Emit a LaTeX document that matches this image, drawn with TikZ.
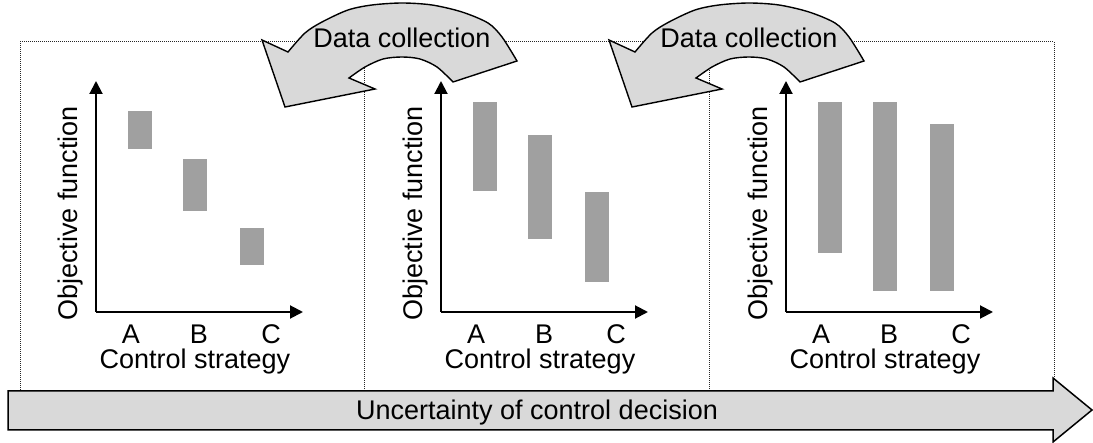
\documentclass[tikz,border=0pt]{standalone}
\usepackage{fontspec}
\setmainfont{Liberation Sans}
\usetikzlibrary{arrows.meta}
\definecolor{barc}{HTML}{A0A0A0}
\definecolor{arrc}{HTML}{D9D9D9}
\begin{document}
\begin{tikzpicture}[x=1pt,y=-1pt,
  lbl/.style={font=\fontsize{27}{30}\selectfont, inner sep=0pt, anchor=base},
  bar/.style={fill=barc, draw=none},
  axis/.style={line width=2pt, -{Triangle[length=13pt,width=13pt]}},
  frame/.style={line width=1pt, dash pattern=on 1pt off 1pt, draw=black!85},
  garrow/.style={fill=arrc, draw=black, line width=1.4pt, line join=miter}]
\useasboundingbox (0,0) rectangle (1093,443);
% dotted frame
\draw[frame] (20,400) -- (20,42) -- (1054,42) -- (1054,400);
\draw[frame] (364,42) -- (364,400);
\draw[frame] (709,42) -- (709,400);
% panels
\foreach \i/\sx/\ya/\yb/\yc/\yd/\ye/\yf in {1/0/111/149/159/211/228/265, 2/345/102/191/135/239/192/282, 3/690/102/253/102/291/124/291}{
  \begin{scope}[shift={(\sx,0)}]
    \fill[bar] (128,\ya) rectangle (152,\yb);
    \fill[bar] (183,\yc) rectangle (207,\yd);
    \fill[bar] (240,\ye) rectangle (264,\yf);
    \coordinate (o\i) at (96,312);
    \coordinate (yt\i) at (96,81);
    \coordinate (xt\i) at (303,312);
    \draw[axis] (o\i) -- (yt\i);
    \draw[axis] (o\i) -- (xt\i);
    \node[lbl, rotate=90] (yl\i) at (77,213.5) {Objective function};
    \node[lbl] (la\i) at (131,344) {A};
    \node[lbl] (lb\i) at (199,344) {B};
    \node[lbl] (lc\i) at (271,344) {C};
    \node[lbl] (xl\i) at (195,369) {Control strategy};
  \end{scope}
}
% curved arrows
\foreach \j/\sx in {1/0, 2/347}{
  \begin{scope}[shift={(\sx,0)}]
    \path[garrow] plot[smooth] coordinates {(453,82) (437,67) (420,59) (402,57) (383,59) (365,67) (349,78)}
      -- (375,89) -- (285,107) -- (262,40)
      -- plot[smooth] coordinates {(288,52) (305,33) (322,22) (348,10) (372,5) (402,3) (432,5) (462,12) (488,23) (502,37) (517,61)}
      -- cycle;
    \node[lbl] (dc\j) at (402,48) {Data collection};
  \end{scope}
}
% bottom arrow
\path[garrow, line width=1.5pt] (8,391) -- (1053,391) -- (1053,378) -- (1092,410) -- (1053,442) -- (1053,430) -- (8,430) -- cycle;
\node[lbl] (unc) at (537,420) {Uncertainty of control decision};
\end{tikzpicture}
\end{document}
